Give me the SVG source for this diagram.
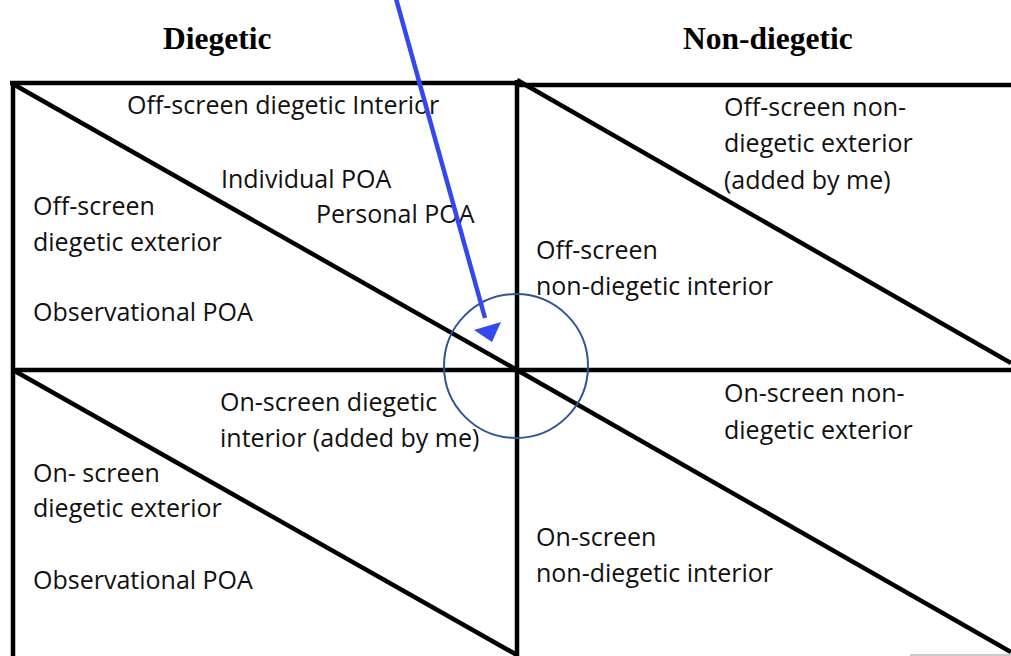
<svg xmlns="http://www.w3.org/2000/svg" width="1011" height="656" viewBox="0 0 1011 656">
<style>
.ln{stroke:#000;stroke-width:4.5;fill:none;stroke-linecap:butt}
.t{font-family:"Open Sans","Liberation Sans",sans-serif;font-size:25px;fill:#111}
.h{font-family:"Liberation Serif","Times New Roman",serif;font-size:31.5px;font-weight:bold;fill:#000}
</style>
<rect width="1011" height="656" fill="#fff"/>
<g id="headers">
<text class="h" x="163" y="49">Diegetic</text>
<text class="h" x="683" y="49">Non-diegetic</text>
</g>
<g id="grid">
<line class="ln" x1="10" y1="83" x2="519" y2="83"/>
<line class="ln" x1="515" y1="85" x2="1011" y2="85"/>
<line class="ln" x1="13" y1="81" x2="13" y2="656"/>
<line class="ln" x1="517" y1="80" x2="517" y2="656"/>
<line class="ln" x1="11" y1="370" x2="1011" y2="370"/>
<line class="ln" x1="13" y1="84" x2="517" y2="370"/>
<line class="ln" x1="517" y1="80" x2="1011" y2="363"/>
<line class="ln" x1="13" y1="370" x2="517" y2="655"/>
<line class="ln" x1="517" y1="370" x2="1011" y2="652"/>
<line x1="910" y1="655" x2="1011" y2="655" stroke="#bbb" stroke-width="1.5"/>
</g>
<g id="q1">
<text class="t" x="127" y="114">Off-screen diegetic Interior</text>
<text class="t" x="221" y="188">Individual POA</text>
<text class="t" x="316" y="223">Personal POA</text>
<text class="t" x="33" y="215">Off-screen</text>
<text class="t" x="33" y="251">diegetic exterior</text>
<text class="t" x="33" y="321">Observational POA</text>
</g>
<g id="q2">
<text class="t" x="724" y="116">Off-screen non-</text>
<text class="t" x="724" y="152">diegetic exterior</text>
<text class="t" x="724" y="189">(added by me)</text>
<text class="t" x="536" y="259">Off-screen</text>
<text class="t" x="536" y="295">non-diegetic interior</text>
</g>
<g id="q3">
<text class="t" x="220" y="411">On-screen diegetic</text>
<text class="t" x="220" y="447">interior (added by me)</text>
<text class="t" x="33" y="482">On- screen</text>
<text class="t" x="33" y="517">diegetic exterior</text>
<text class="t" x="33" y="589">Observational POA</text>
</g>
<g id="q4">
<text class="t" x="724" y="402">On-screen non-</text>
<text class="t" x="724" y="439">diegetic exterior</text>
<text class="t" x="536" y="546">On-screen</text>
<text class="t" x="536" y="582">non-diegetic interior</text>
</g>
<g id="circle">
<circle cx="516" cy="366" r="72" fill="none" stroke="#2f5597" stroke-width="2"/>
</g>
<g id="connectors">
<line x1="395" y1="-5" x2="485" y2="318" stroke="#3348ee" stroke-width="4.5"/>
<path d="M474,330 L501,322 L492,342 z" fill="#3348ee"/>
</g>
</svg>
